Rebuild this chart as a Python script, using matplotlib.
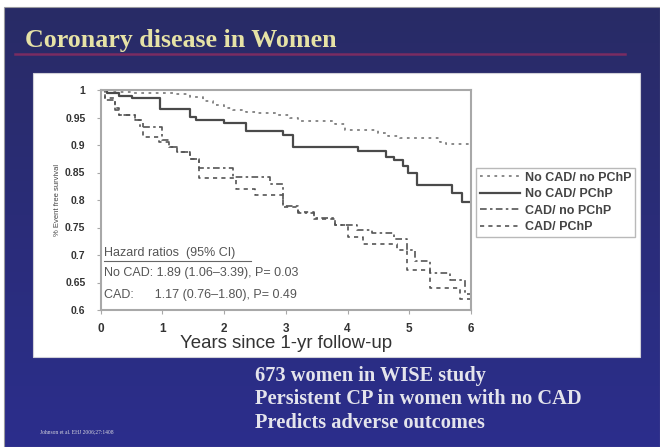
import numpy as np
import matplotlib
matplotlib.use("Agg")
import matplotlib.pyplot as plt
from matplotlib.patches import Rectangle
from matplotlib.lines import Line2D

# Kaplan-Meier style step data
t_nocad_nopchp = [0, 0.15, 0.5, 1.2, 1.45, 1.65, 1.82, 2.0, 2.15, 2.35, 2.53, 2.86, 3.07, 3.2,
                  3.8, 3.96, 4.5, 4.65, 4.85, 5.5, 5.6, 6.0]
s_nocad_nopchp = [1.0, 0.997, 0.995, 0.993, 0.988, 0.98, 0.973, 0.968, 0.964, 0.96, 0.958, 0.955,
                  0.949, 0.944, 0.938, 0.927, 0.922, 0.917, 0.912, 0.906, 0.902, 0.902]

t_nocad_pchp = [0, 0.1, 0.3, 0.5, 0.96, 1.45, 1.55, 2.0, 2.35, 2.96, 3.12, 4.17, 4.63, 4.75,
                4.9, 4.98, 5.13, 5.7, 5.86, 6.0]
s_nocad_pchp = [1.0, 0.995, 0.99, 0.985, 0.966, 0.951, 0.945, 0.94, 0.925, 0.918, 0.897, 0.89,
                0.879, 0.873, 0.862, 0.85, 0.827, 0.812, 0.797, 0.797]

t_cad_nopchp = [0, 0.07, 0.23, 0.3, 0.55, 0.64, 1.0, 1.1, 1.24, 1.45, 1.6, 2.15, 2.75, 2.96,
                3.2, 3.45, 3.8, 4.15, 4.4, 4.75, 4.97, 5.1, 5.34, 5.66, 5.9, 6.0]
s_cad_nopchp = [1.0, 0.982, 0.964, 0.955, 0.945, 0.933, 0.91, 0.897, 0.887, 0.875, 0.858, 0.842,
                0.83, 0.79, 0.776, 0.767, 0.755, 0.745, 0.74, 0.73, 0.71, 0.69, 0.667, 0.655,
                0.63, 0.63]

t_cad_pchp = [0, 0.07, 0.23, 0.3, 0.55, 0.69, 0.95, 1.1, 1.24, 1.45, 1.6, 2.2, 2.5, 2.96, 3.2,
              3.45, 3.8, 4.0, 4.25, 4.48, 4.8, 4.97, 5.34, 5.66, 5.82, 6.0]
s_cad_pchp = [1.0, 0.985, 0.967, 0.955, 0.945, 0.915, 0.905, 0.897, 0.887, 0.875, 0.84, 0.82,
              0.81, 0.787, 0.778, 0.765, 0.755, 0.733, 0.72, 0.72, 0.71, 0.673, 0.64, 0.64,
              0.62, 0.62]

series_labels = ["No CAD/ no PChP", "No CAD/ PChP", "CAD/ no PChP", "CAD/ PChP"]
y_ticks = [0.6, 0.65, 0.7, 0.75, 0.8, 0.85, 0.9, 0.95, 1.0]
y_ticklabels = ["0.6", "0.65", "0.7", "0.75", "0.8", "0.85", "0.9", "0.95", "1"]
x_ticks = [0, 1, 2, 3, 4, 5, 6]
bullets = ["673 women in WISE study",
           "Persistent CP in women with no CAD",
           "Predicts adverse outcomes"]

W, H = 660, 447
fig = plt.figure(figsize=(6.6, 4.47), dpi=100)
fig.patch.set_facecolor("white")

def fx(px):
    return px / W

def fy(py):
    return 1 - py / H

# slide background (blue gradient)
bg = fig.add_axes([fx(5), fy(447), fx(655), 439 / H])
bg.set_zorder(-5)
grad = np.linspace(0, 1, 200)[:, None]
top = np.array([0.16, 0.17, 0.40])
bot = np.array([0.17, 0.18, 0.55])
img = top[None, None, :] * (1 - grad[:, :, None]) + bot[None, None, :] * grad[:, :, None]
bg.imshow(img, aspect="auto", extent=[0, 1, 0, 1], origin="upper")
bg.set_axis_off()
fig.add_artist(Rectangle((fx(4), fy(447)), fx(656), 440 / H, transform=fig.transFigure,
                         fill=False, edgecolor="#9a9aa0", linewidth=0.8, zorder=-4))

# title + underline
fig.text(fx(25), fy(40), "Coronary disease in Women", family="Liberation Serif",
         weight="bold", fontsize=18.7, color="#e6e2a6", va="center", ha="left")
fig.add_artist(Line2D([fx(15), fx(625)], [fy(54), fy(54)], transform=fig.transFigure,
                      color="#7a2c62", linewidth=1.8, zorder=-3))

# white panel
fig.add_artist(Rectangle((fx(33), fy(357)), fx(607), 284 / H, transform=fig.transFigure,
                         facecolor="white", edgecolor="#d0d0d8", linewidth=0.8, zorder=-3))

ax = fig.add_axes([fx(100.7), fy(310), fx(370.3), 220 / H])
ax.set_zorder(2)
ax.set_facecolor("white")
ax.step(t_nocad_nopchp, s_nocad_nopchp, where="post", color="#808080", lw=1.3,
        linestyle=(0, (1.5, 2.5)), label=series_labels[0])
ax.step(t_nocad_pchp, s_nocad_pchp, where="post", color="#4a4a4a", lw=1.6,
        linestyle="-", label=series_labels[1])
ax.step(t_cad_nopchp, s_cad_nopchp, where="post", color="#555555", lw=1.2,
        linestyle=(0, (4, 2, 1.5, 2)), label=series_labels[2])
ax.step(t_cad_pchp, s_cad_pchp, where="post", color="#555555", lw=1.2,
        linestyle=(0, (2.5, 2.5)), label=series_labels[3])

ax.set_xlim(0, 6)
ax.set_ylim(0.6, 1.0)
ax.set_yticks(y_ticks)
ax.set_yticklabels(y_ticklabels)
ax.set_xticks(x_ticks)
for sp in ax.spines.values():
    sp.set_color("#a8a8a8")
    sp.set_linewidth(1.5)
ax.tick_params(axis="y", labelsize=7.5, length=3, width=0.8, color="#a8a8a8",
               labelcolor="#333333", pad=8)
ax.tick_params(axis="x", labelsize=8.5, length=3, width=0.8, color="#a8a8a8",
               labelcolor="#333333", pad=6)
for lab in ax.get_xticklabels() + ax.get_yticklabels():
    lab.set_fontweight("bold")
    lab.set_family("Liberation Sans")
ax.set_ylabel("% Event free survival", fontsize=5.5, color="#444444",
              family="Liberation Sans", labelpad=3)
ax.set_xlabel("Years since 1-yr follow-up", fontsize=13.4, color="#333333",
              family="Liberation Sans", labelpad=0)

# hazard ratio annotation
ax.text(0.01, 0.26, "Hazard ratios  (95% CI)", transform=ax.transAxes, fontsize=9,
        color="#555555", family="Liberation Sans", va="center")
ax.plot([0.01, 0.405], [0.222, 0.222], transform=ax.transAxes, color="#666666", lw=0.8)
ax.text(0.01, 0.168, "No CAD: 1.89 (1.06\u20133.39), P= 0.03", transform=ax.transAxes,
        fontsize=9, color="#555555", family="Liberation Sans", va="center")
ax.text(0.01, 0.068, "CAD:      1.17 (0.76\u20131.80), P= 0.49", transform=ax.transAxes,
        fontsize=9, color="#555555", family="Liberation Sans", va="center")

leg = ax.legend(loc="upper left", bbox_to_anchor=(fx(476), fy(168)),
                bbox_transform=fig.transFigure, frameon=True, borderaxespad=0,
                fancybox=False, handlelength=3.2, borderpad=0.3, labelspacing=0.35,
                handletextpad=0.4, prop={"family": "Liberation Sans", "weight": "bold",
                                         "size": 9})
leg.get_frame().set_edgecolor("#a8a8a8")
leg.get_frame().set_linewidth(1.0)
for txt in leg.get_texts():
    txt.set_color("#444444")

# bullets
for i, line in enumerate(bullets):
    fig.text(fx(255), fy(376 + 23.5 * i), line, family="Liberation Serif", weight="bold",
             fontsize=14.7, color="#e4e4ec", va="center", ha="left")
fig.text(fx(40), fy(432), "Johnson et al. EHJ 2006;27:1408", family="Liberation Serif",
         fontsize=4, color="#d8d8e0", va="center", ha="left")

fig.savefig("out.png", dpi=100)
